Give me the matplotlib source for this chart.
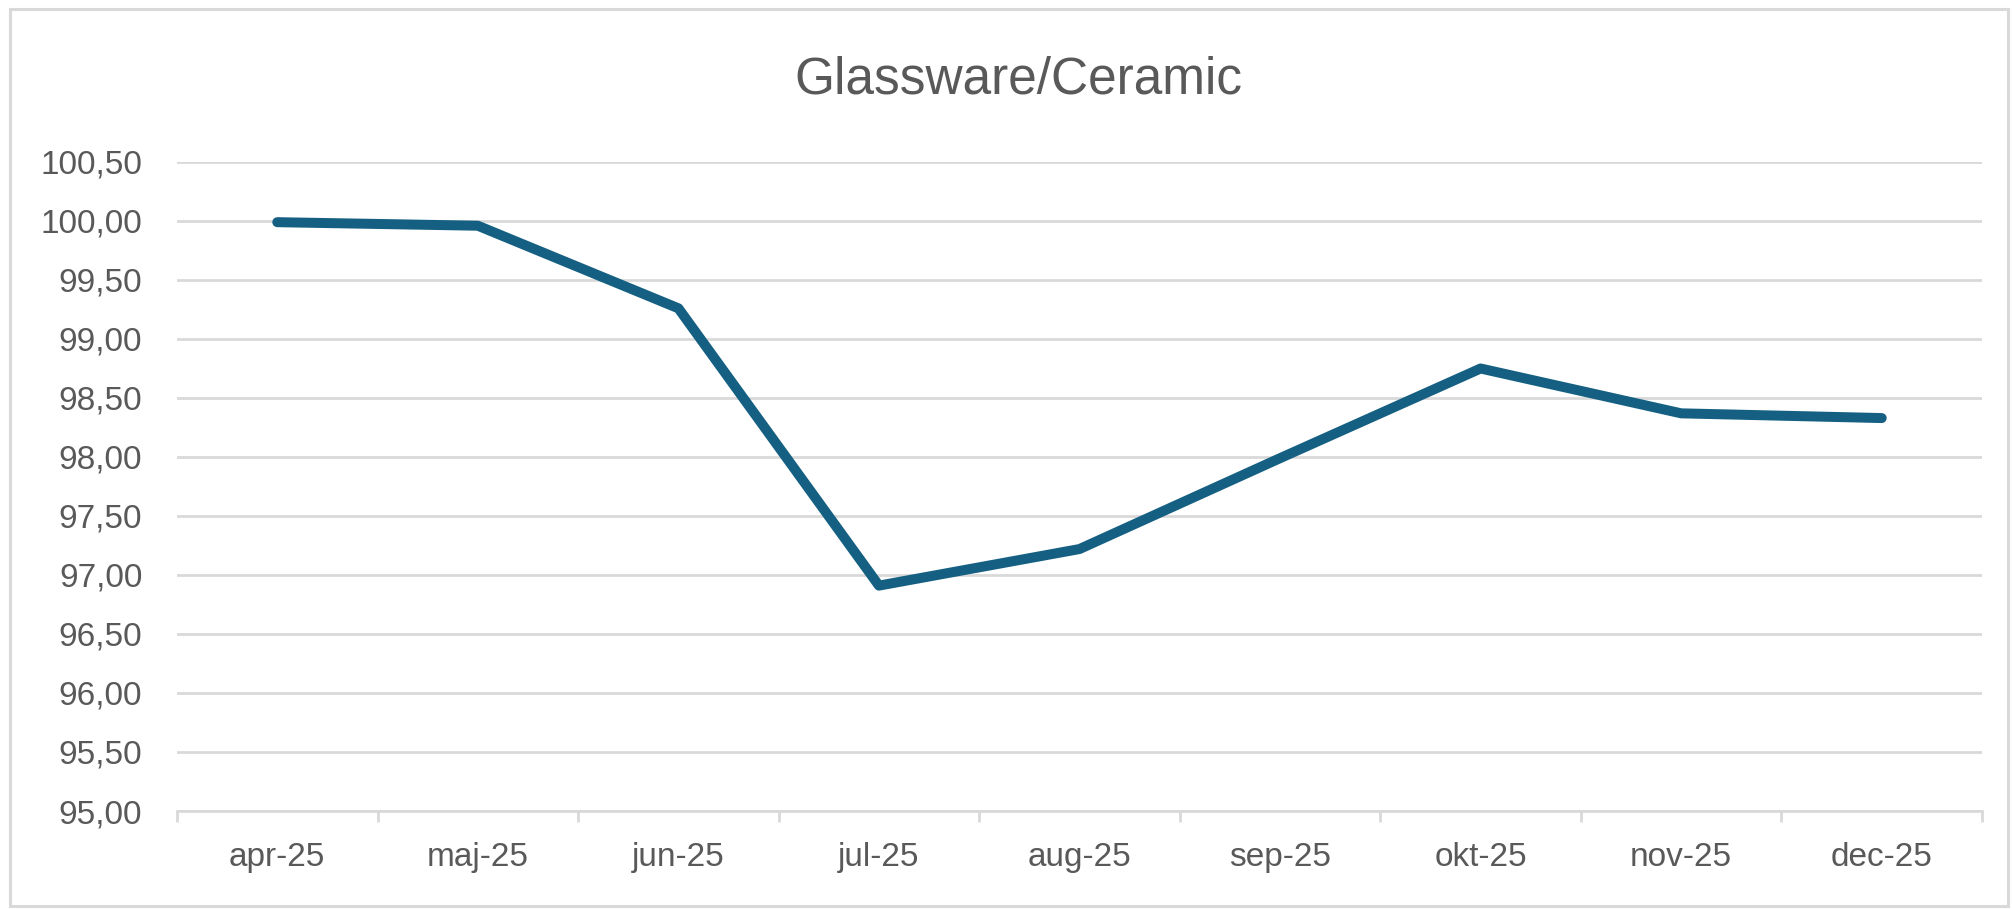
import matplotlib
matplotlib.use("Agg")
import matplotlib.pyplot as plt
import matplotlib.ticker as mtick
from matplotlib.patches import Rectangle
import numpy as np

# ── Data ─────────────────────────────────────────────────────────────────────
title = "Glassware/Ceramic"
months = ["apr-25", "maj-25", "jun-25", "jul-25", "aug-25",
          "sep-25", "okt-25", "nov-25", "dec-25"]
index_values = [99.99, 99.96, 99.26, 96.91, 97.22, 97.99, 98.75, 98.37, 98.33]
y_min, y_max, y_step = 95.0, 100.5, 0.5

# ── Style ────────────────────────────────────────────────────────────────────
LINE_COLOR = "#156082"
GRID_COLOR = "#d9d9d9"
TEXT_COLOR = "#595959"
plt.rcParams["font.family"] = ["Liberation Sans", "DejaVu Sans"]

W, H, DPI = 2012, 909, 100
fig = plt.figure(figsize=(W / DPI, H / DPI), dpi=DPI)

# plot area in pixels -> figure fractions
left_px, right_px, top_px, bottom_px = 177, 1982, 162, 811
ax = fig.add_axes([left_px / W, 1 - bottom_px / H,
                   (right_px - left_px) / W, (bottom_px - top_px) / H])

x = np.arange(len(months))
ax.plot(x, index_values, color=LINE_COLOR, linewidth=7.2,
        solid_capstyle="round", solid_joinstyle="round", zorder=3)

ax.set_xlim(-0.5, len(months) - 0.5)
ax.set_ylim(y_min, y_max)
ax.set_yticks(np.arange(y_min, y_max + y_step / 2, y_step))
ax.yaxis.set_major_formatter(
    mtick.FuncFormatter(lambda v, _: f"{v:.2f}".replace(".", ",")))
ax.set_xticks(x)
ax.set_xticklabels(months)
ax.set_xticks(np.arange(-0.5, len(months)), minor=True)

ax.grid(axis="y", color=GRID_COLOR, linewidth=2.0, zorder=0)
ax.set_axisbelow(True)
for side in ("top", "right", "left"):
    ax.spines[side].set_visible(False)
ax.spines["bottom"].set_color(GRID_COLOR)
ax.spines["bottom"].set_linewidth(2.0)

ax.tick_params(axis="y", length=0, pad=25, labelsize=24, labelcolor=TEXT_COLOR)
ax.tick_params(axis="x", which="major", length=0, pad=22,
               labelsize=24, labelcolor=TEXT_COLOR)
ax.tick_params(axis="x", which="minor", length=8, width=2.0,
               color=GRID_COLOR)

# title
fig.text(1018 / W, 1 - 94 / H, title, ha="center", va="baseline",
         fontsize=37, color=TEXT_COLOR)

# chart-area border
fig.patches.append(Rectangle((10 / W, 1 - 906 / H), (2008 - 10) / W,
                             (906 - 9) / H, transform=fig.transFigure,
                             fill=False, edgecolor=GRID_COLOR, linewidth=2.2))

fig.savefig("out.png", dpi=DPI)
